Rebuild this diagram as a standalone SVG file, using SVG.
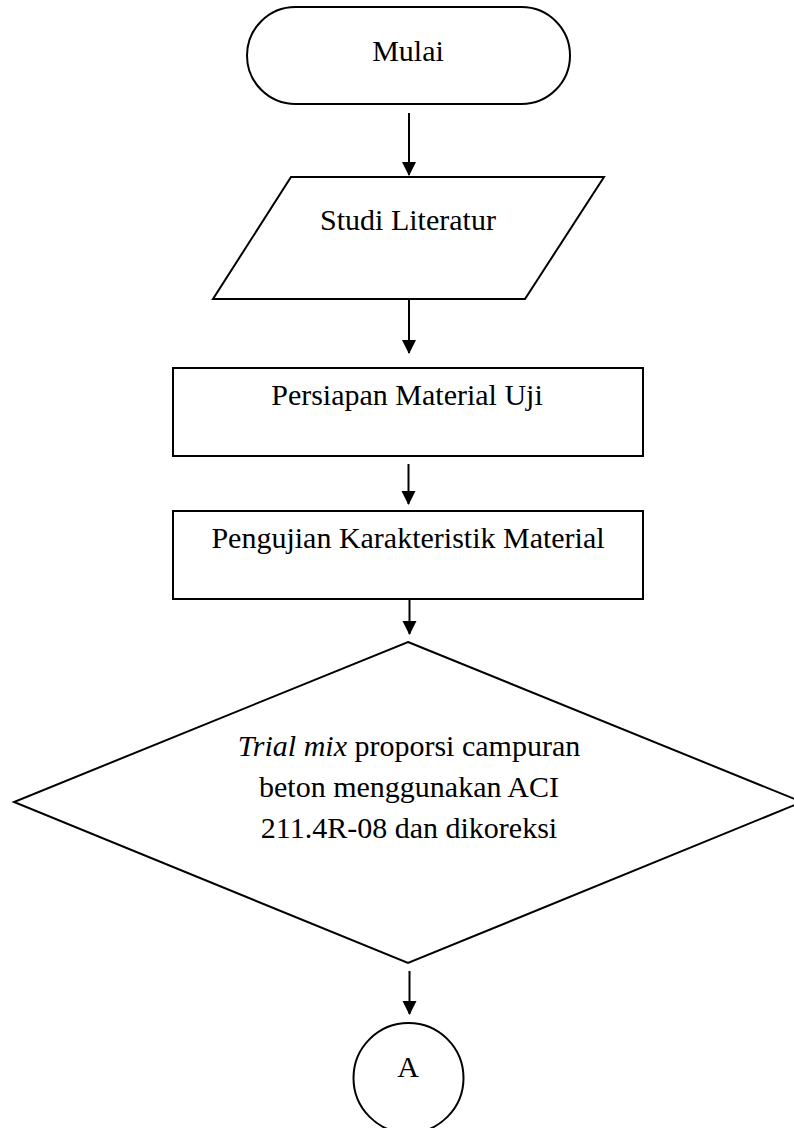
<svg xmlns="http://www.w3.org/2000/svg" width="794" height="1128" viewBox="0 0 794 1128">
<style>
.shape{fill:#fff;stroke:#000;stroke-width:2}
.lbl{font-family:"Liberation Serif","Times New Roman",serif;font-size:30px;fill:#000;text-anchor:middle}
.conn{stroke:#000;stroke-width:2;fill:none}
</style>
<defs>
<marker id="ah" markerUnits="userSpaceOnUse" markerWidth="14" markerHeight="16" refX="13" refY="7" orient="auto">
<path d="M0,0 L14,7 L0,14 Z" fill="#000"/>
</marker>
</defs>
<rect width="794" height="1128" fill="#fff"/>
<g id="mulai">
<rect class="shape" x="247" y="7" width="323" height="97" rx="48.5" ry="48.5"/>
<text class="lbl" x="408" y="61">Mulai</text>
</g>
<g id="studi-literatur">
<polygon class="shape" points="291,177 604,177 525,299 213,299"/>
<text class="lbl" x="408" y="230">Studi Literatur</text>
</g>
<g id="persiapan">
<rect class="shape" x="173" y="368" width="470" height="88"/>
<text class="lbl" x="407" y="405">Persiapan Material Uji</text>
</g>
<g id="pengujian">
<rect class="shape" x="173" y="511" width="470" height="88"/>
<text class="lbl" x="408" y="548">Pengujian Karakteristik Material</text>
</g>
<g id="trial-mix">
<polygon class="shape" points="408,642 802,802 408,963 14,802"/>
<text class="lbl" x="409" y="756"><tspan font-style="italic">Trial mix</tspan> proporsi campuran</text>
<text class="lbl" x="409" y="797">beton menggunakan ACI</text>
<text class="lbl" x="409" y="838">211.4R-08 dan dikoreksi</text>
</g>
<g id="connector-a">
<circle class="shape" cx="408.5" cy="1078" r="55"/>
<text class="lbl" x="408" y="1077">A</text>
</g>
<g id="connectors">
<line class="conn" x1="409" y1="113" x2="409" y2="175" marker-end="url(#ah)"/>
<line class="conn" x1="409" y1="300" x2="409" y2="353" marker-end="url(#ah)"/>
<line class="conn" x1="408.5" y1="464" x2="408.5" y2="504" marker-end="url(#ah)"/>
<line class="conn" x1="409.5" y1="600" x2="409.5" y2="634" marker-end="url(#ah)"/>
<line class="conn" x1="409.5" y1="971" x2="409.5" y2="1014" marker-end="url(#ah)"/>
</g>
</svg>
